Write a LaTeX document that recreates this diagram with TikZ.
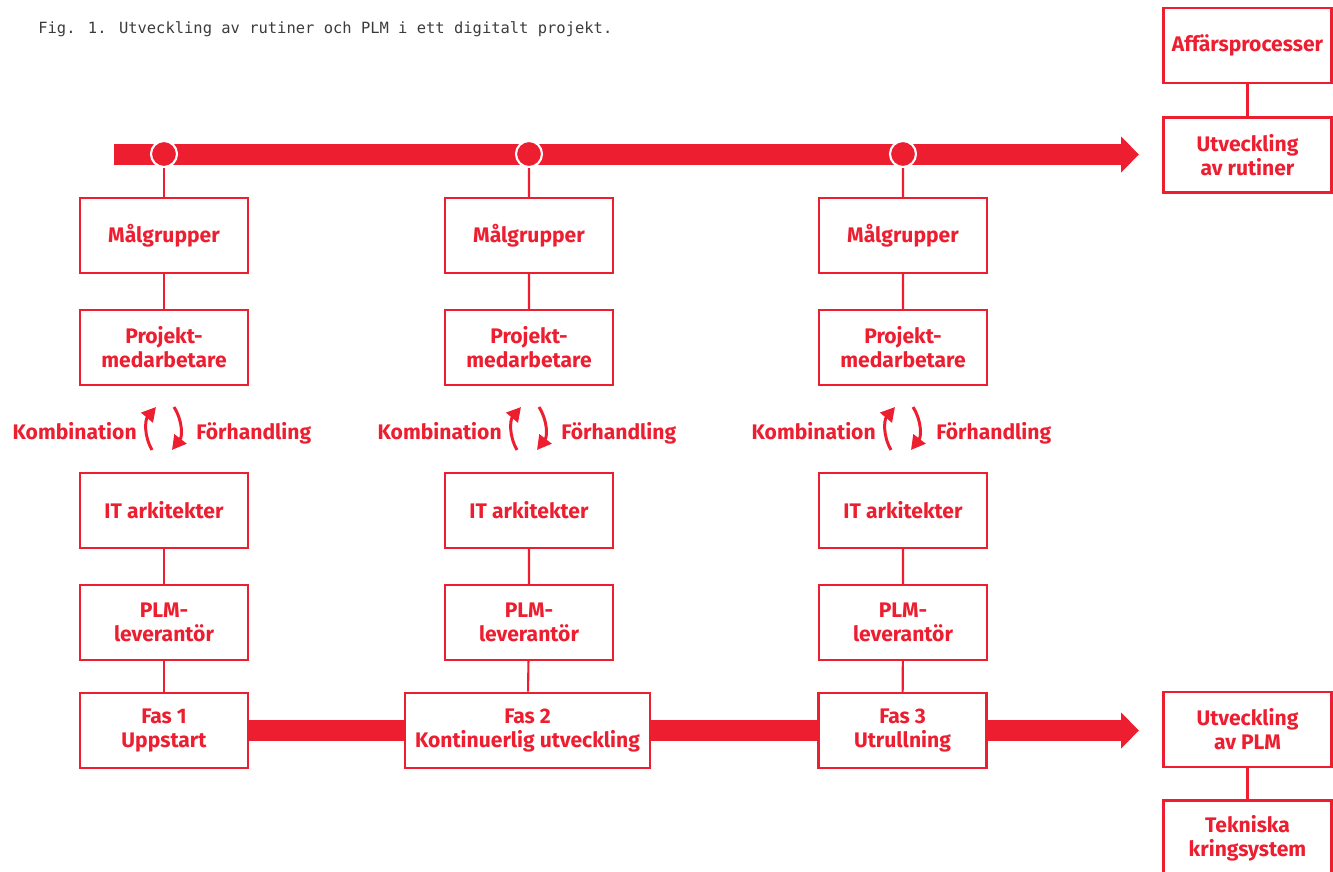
\documentclass[tikz,border=0pt]{standalone}
\usepackage{fontspec}
\setmainfont{Fira Sans}
\newfontfamily\capfont{DejaVu Sans Mono}
\usetikzlibrary{arrows.meta}
\definecolor{plmred}{RGB}{236,30,48}
\definecolor{capgray}{RGB}{60,60,60}
\tikzset{
  box/.style={draw=plmred, line width=1.2pt, fill=white, text=plmred,
    font=\bfseries\fontsize{12}{13.6}\selectfont, align=center,
    minimum width=3.36cm, minimum height=1.5cm, inner sep=0pt},
  lbl/.style={text=plmred, font=\bfseries\fontsize{12}{13.6}\selectfont, inner sep=0pt},
  link/.style={draw=plmred, line width=1.2pt},
  bar/.style={draw=plmred, line width=0.42cm},
  bartip/.style={-{Triangle[length=0.36cm,width=0.7cm]}},
  dot/.style={circle, fill=plmred, draw=white, line width=1.2pt, minimum size=0.52cm, inner sep=0pt},
  cyc/.style={draw=plmred, line width=1.7pt, -{Triangle[length=0.28cm,width=0.3cm]}}
}
\begin{document}
\begin{tikzpicture}[x=0.02cm,y=-0.02cm]
  \useasboundingbox (0,0) rectangle (1333,872);
  \node[anchor=base west, inner sep=0pt, text=capgray, font=\capfont\fontsize{8.8}{10}\selectfont] (cap) at (38,33)
    {Fig. 1. Utveckling av rutiner och PLM i ett digitalt projekt.};
  % tidslinje
  \coordinate (t0) at (114,154.5);
  \coordinate (t1) at (1139,154.5);
  \draw[bar,bartip] (t0) -- (t1);
  \node[dot] (c1) at (164,154) {};
  \node[dot] (c2) at (529,154) {};
  \node[dot] (c3) at (903,154) {};
  % fas 1
  \node[box] (m1) at (164,235.5) {Målgrupper};
  \node[box] (p1) at (164,347.5) {Projekt-\\medarbetare};
  \node[box] (i1) at (164,510.5) {IT arkitekter};
  \node[box] (l1) at (164,622.5) {PLM-\\leverantör};
  \node[box] (f1) at (164,730.5) {Fas 1\\Uppstart};
  \node[lbl, anchor=base east] (k1) at (137,439) {Kombination};
  \node[lbl, anchor=base west] (h1) at (196,439) {Förhandling};
  % fas 2
  \node[box] (m2) at (529,235.5) {Målgrupper};
  \node[box] (p2) at (529,347.5) {Projekt-\\medarbetare};
  \node[box] (i2) at (529,510.5) {IT arkitekter};
  \node[box] (l2) at (529,622.5) {PLM-\\leverantör};
  \node[box, minimum width=4.9cm, line width=1.6pt] (f2) at (527.5,730.5) {Fas 2\\Kontinuerlig utveckling};
  \node[lbl, anchor=base east] (k2) at (502,439) {Kombination};
  \node[lbl, anchor=base west] (h2) at (561,439) {Förhandling};
  % fas 3
  \node[box] (m3) at (903,235.5) {Målgrupper};
  \node[box] (p3) at (903,347.5) {Projekt-\\medarbetare};
  \node[box] (i3) at (903,510.5) {IT arkitekter};
  \node[box] (l3) at (903,622.5) {PLM-\\leverantör};
  \node[box] (f3) at (902.5,730.5) {Fas 3\\Utrullning};
  \node[lbl, anchor=base east] (k3) at (876,439) {Kombination};
  \node[lbl, anchor=base west] (h3) at (936,439) {Förhandling};
  % hoger sida
  \node[box] (a1) at (1247.5,45.5) {Affärsprocesser};
  \node[box] (u1) at (1247.5,155) {Utveckling\\av rutiner};
  \node[box] (u2) at (1247.5,729.5) {Utveckling\\av PLM};
  \node[box] (t2) at (1247.5,838) {Tekniska\\kringsystem};
  % linjer
  \draw[link] (c1) -- (m1) (m1) -- (p1) (i1) -- (l1) (l1) -- (f1);
  \draw[link] (c2) -- (m2) (m2) -- (p2) (i2) -- (l2) (l2) -- (f2);
  \draw[link] (c3) -- (m3) (m3) -- (p3) (i3) -- (l3) (l3) -- (f3);
  \draw[link] (a1) -- (u1) (u2) -- (t2);
  % pilar
  \draw[cyc] ([shift={(-12,-22)}]i1.north) to[bend left=35] ([shift={(-8,21)}]p1.south);
  \draw[cyc] ([shift={(10,21)}]p1.south) to[bend left=35] ([shift={(8,-22)}]i1.north);
  \draw[cyc] ([shift={(-12,-22)}]i2.north) to[bend left=35] ([shift={(-8,21)}]p2.south);
  \draw[cyc] ([shift={(10,21)}]p2.south) to[bend left=35] ([shift={(8,-22)}]i2.north);
  \draw[cyc] ([shift={(-12,-22)}]i3.north) to[bend left=35] ([shift={(-8,21)}]p3.south);
  \draw[cyc] ([shift={(10,21)}]p3.south) to[bend left=35] ([shift={(8,-22)}]i3.north);
  % nedre pil
  \coordinate (b1) at (1139,730.5);
  \draw[bar] (f1) -- (f2);
  \draw[bar] (f2) -- (f3);
  \draw[bar,bartip] (f3) -- (b1);
\end{tikzpicture}
\end{document}
